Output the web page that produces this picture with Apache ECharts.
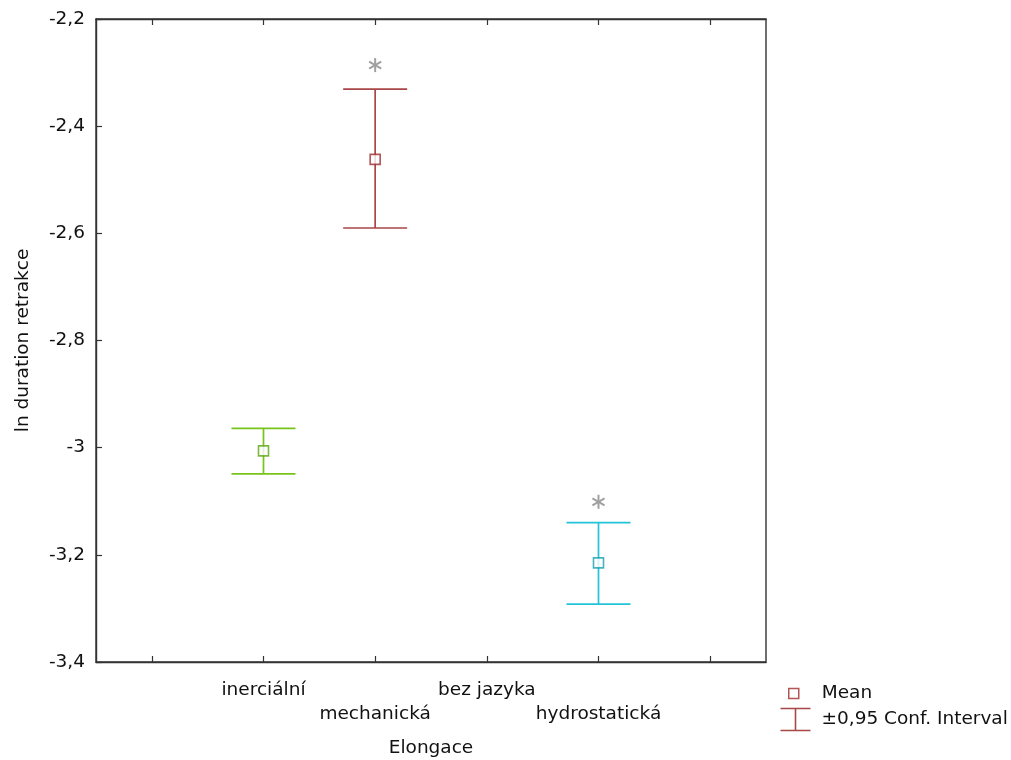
<!DOCTYPE html>
<html>
<head>
<meta charset="utf-8">
<script src="https://cdn.jsdelivr.net/npm/echarts@6/dist/echarts.min.js"></script>
<style>html,body{margin:0;padding:0;background:#fff}#c{width:1011px;height:760px}</style>
</head>
<body>
<div id="c"></div>
<script>
// ---- data ----
const categories = ['', 'inerciální', 'mechanická', 'bez jazyka', 'hydrostatická', ''];
const means   = [null, -3.006, -2.462, null, -3.215, null];
const ciUpper = [null, -2.964, -2.331, null, -3.140, null];
const ciLower = [null, -3.049, -2.590, null, -3.292, null];
const asterisks = [null, null, -2.286, null, -3.101, null];
const colors = ['#000', '#77c41a', '#a94646', '#000', '#22c3d8', '#000'];
const borderColors = ['#000', '#5fa514', '#9e2a2a', '#000', '#179fb0', '#000'];

const FONT = 'DejaVu Sans, Liberation Sans, Arial, sans-serif';
const FS = 18.5;

const errData = [];
const meanData = [];
const astData = [];
categories.forEach((c, i) => {
  if (means[i] != null) {
    errData.push({value: [i, ciLower[i], ciUpper[i]], itemStyle: {color: colors[i]}});
    meanData.push({value: [i, means[i]], itemStyle: {color: '#fff', borderColor: borderColors[i]}});
  }
  if (asterisks[i] != null) astData.push([i, asterisks[i]]);
});

const chart = echarts.init(document.getElementById('c'), null, {renderer: 'canvas'});
const fmt = v => Number(v.toFixed(1)).toString().replace('.', ',');
const AX = '#333';

chart.setOption({
  animation: false,
  textStyle: {fontFamily: FONT},
  grid: {left: 96, right: 245, top: 19, bottom: 98, containLabel: false, outerBoundsMode: 'none',
         show: true, borderColor: AX, borderWidth: 1.4, backgroundColor: 'transparent'},
  xAxis: [{
    type: 'category', data: categories, position: 'bottom',
    axisLine: {lineStyle: {color: AX, width: 1.4}},
    axisTick: {show: true, inside: true, alignWithLabel: true, interval: 0, length: 6, lineStyle: {color: AX, width: 1.2}},
    axisLabel: {
      interval: 0, margin: 16, color: '#111', fontSize: FS, fontFamily: FONT, lineHeight: 24,
      formatter: (v, i) => (i % 2 === 1 ? v : '\n' + v)
    },
    name: 'Elongace', nameLocation: 'middle', nameGap: 77,
    nameTextStyle: {color: '#111', fontSize: FS, fontFamily: FONT}
  }, {
    type: 'category', data: categories, position: 'top',
    axisLine: {lineStyle: {color: AX, width: 1.4}},
    axisTick: {show: true, inside: true, alignWithLabel: true, interval: 0, length: 6, lineStyle: {color: AX, width: 1.2}},
    axisLabel: {show: false}
  }],
  yAxis: {
    type: 'value', min: -3.4, max: -2.2, interval: 0.2,
    axisLine: {show: true, lineStyle: {color: AX, width: 1.4}},
    axisTick: {show: true, inside: true, length: 6, lineStyle: {color: AX, width: 1.2}},
    splitLine: {show: false},
    axisLabel: {color: '#111', fontSize: FS, fontFamily: FONT, margin: 11, formatter: fmt},
    name: 'ln duration retrakce', nameLocation: 'middle', nameGap: 63,
    nameTextStyle: {color: '#111', fontSize: FS, fontFamily: FONT}
  },
  legend: [{
    data: [{name: 'Mean', icon: 'rect', itemStyle: {color: '#fff', borderColor: '#9e2a2a', borderWidth: 1.5}}],
    left: 788, top: 684, padding: 0, itemWidth: 10, itemHeight: 10,
    textStyle: {color: '#111', fontSize: FS, fontFamily: FONT, padding: [0, 0, 0, 18]}
  }, {
    data: [{name: '±0,95 Conf. Interval', icon: 'path://M0,0L30,0M15,0L15,22M0,22L30,22', itemStyle: {color: 'none', borderColor: '#a94646', borderWidth: 1.6}}],
    left: 778, top: 706, padding: 0, itemWidth: 30, itemHeight: 22,
    textStyle: {color: '#111', fontSize: FS, fontFamily: FONT, padding: [0, 0, 0, 6]}
  }],
  series: [{
    name: '±0,95 Conf. Interval', type: 'custom',
    itemStyle: {color: '#a94646'},
    data: errData,
    encode: {x: 0, y: [1, 2]},
    renderItem: (params, api) => {
      const x = api.value(0);
      const lo = api.coord([x, api.value(1)]);
      const hi = api.coord([x, api.value(2)]);
      const hw = 32;
      const style = {stroke: api.visual('color'), lineWidth: 1.7, fill: null};
      return {type: 'group', children: [
        {type: 'line', shape: {x1: hi[0], y1: hi[1], x2: lo[0], y2: lo[1]}, style},
        {type: 'line', shape: {x1: hi[0] - hw, y1: hi[1], x2: hi[0] + hw, y2: hi[1]}, style},
        {type: 'line', shape: {x1: lo[0] - hw, y1: lo[1], x2: lo[0] + hw, y2: lo[1]}, style}
      ]};
    },
    z: 2
  }, {
    name: 'Mean', type: 'scatter', symbol: 'rect', symbolSize: 10,
    itemStyle: {color: '#fff', borderColor: '#9e2a2a', borderWidth: 1.6},
    data: meanData, z: 3
  }, {
    name: 'asterisk', type: 'custom',
    data: astData,
    renderItem: (params, api) => {
      const p = api.coord([api.value(0), api.value(1)]);
      const r = 7;
      const style = {stroke: '#a0a0a0', lineWidth: 2, fill: null};
      const dx = r * Math.cos(Math.PI / 6), dy = r * Math.sin(Math.PI / 6);
      return {type: 'group', children: [
        {type: 'line', shape: {x1: p[0], y1: p[1] - r, x2: p[0], y2: p[1] + r}, style},
        {type: 'line', shape: {x1: p[0] - dx, y1: p[1] - dy, x2: p[0] + dx, y2: p[1] + dy}, style},
        {type: 'line', shape: {x1: p[0] - dx, y1: p[1] + dy, x2: p[0] + dx, y2: p[1] - dy}, style}
      ]};
    },
    z: 2
  }]
});
</script>
</body>
</html>
